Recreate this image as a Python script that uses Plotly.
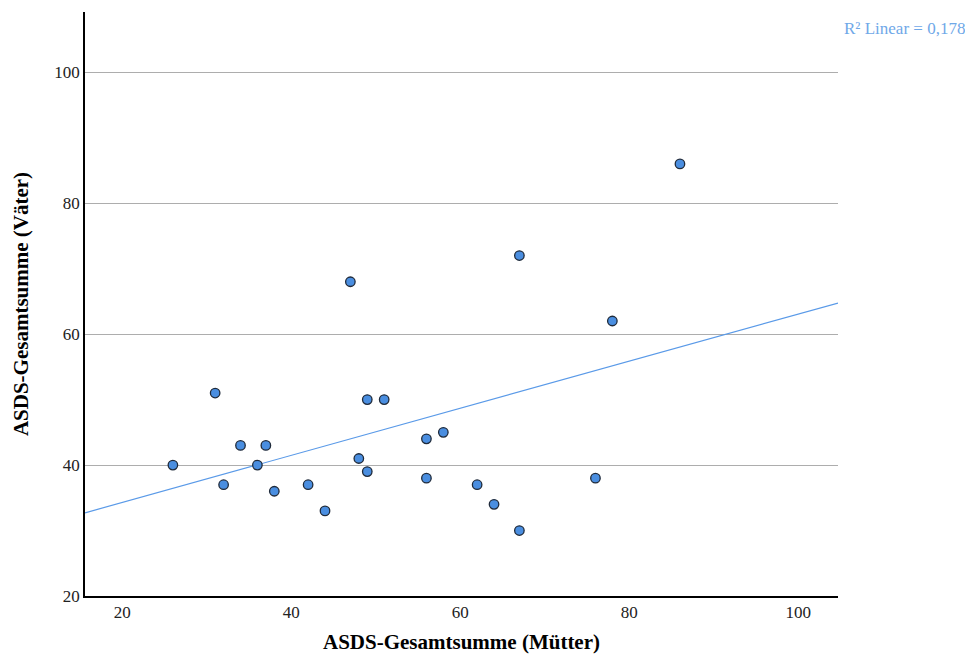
import numpy as np
import plotly.graph_objects as go

# Data
mothers = [26, 31, 32, 34, 36, 37, 38, 42, 44, 47, 48, 49, 49, 51, 56, 56, 58, 62, 64, 67, 67, 76, 78, 86]
fathers = [40, 51, 37, 43, 40, 43, 36, 37, 33, 68, 41, 50, 39, 50, 44, 38, 45, 37, 34, 72, 30, 38, 62, 86]
x_ticks = [20, 40, 60, 80, 100]
y_ticks = [20, 40, 60, 80, 100]
r2_label = "R² Linear = 0,178"

x_range = [15.6, 104.7]
y_range = [20, 109.2]

slope, intercept = np.polyfit(mothers, fathers, 1)
fit_x = np.array(x_range)
fit_y = slope * fit_x + intercept

FONT = "Liberation Serif, Times New Roman, serif"

fig = go.Figure()
fig.add_trace(go.Scatter(
    x=fit_x, y=fit_y, mode="lines",
    line=dict(color="#5a9ae8", width=1.2),
    hoverinfo="skip", showlegend=False,
))
fig.add_trace(go.Scatter(
    x=mothers, y=fathers, mode="markers",
    marker=dict(size=9.5, color="#4a8ee0", line=dict(color="#1f2a3a", width=1.3)),
    showlegend=False,
))

fig.update_layout(
    width=973, height=661,
    margin=dict(l=77, r=143, t=4, b=73),
    paper_bgcolor="white", plot_bgcolor="white",
    font=dict(family=FONT, color="#000000", size=17),
    xaxis=dict(
        range=x_range, tickvals=x_ticks, showgrid=False, zeroline=False,
        showline=True, linecolor="#000000", linewidth=1.5,
        ticks="", tickfont=dict(size=17, color="#222222"),
        title=dict(text="<b>ASDS-Gesamtsumme (Mütter)</b>", font=dict(size=21), standoff=13),
    ),
    yaxis=dict(
        range=y_range, tickvals=y_ticks, showgrid=True, gridcolor="#adadad", gridwidth=1,
        zeroline=False, showline=True, linecolor="#000000", linewidth=1.5,
        ticks="", tickfont=dict(size=17, color="#222222"),
        title=dict(text="<b>ASDS-Gesamtsumme (Väter)</b>", font=dict(size=21), standoff=20),
    ),
    annotations=[dict(
        text=r2_label, xref="paper", yref="paper", x=1.0, y=0.972,
        xshift=4, xanchor="left", yanchor="middle", showarrow=False,
        font=dict(size=17, color="#6fa8e8", family=FONT),
    )],
)

fig.write_html("out.html")
